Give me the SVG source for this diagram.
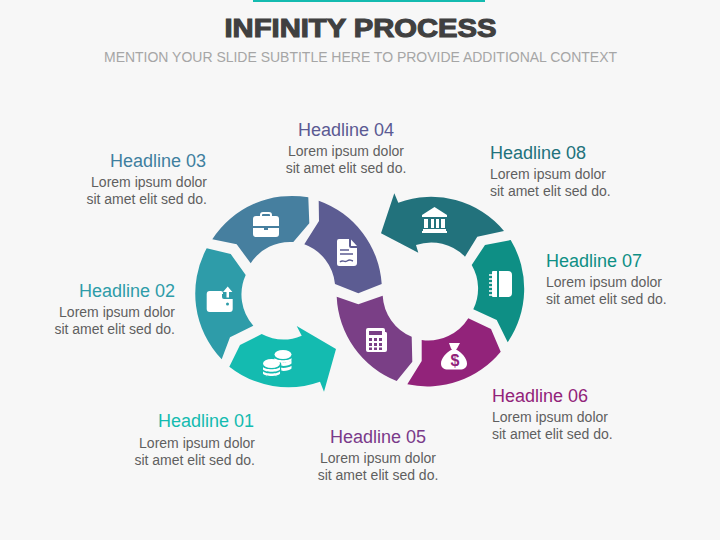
<svg xmlns="http://www.w3.org/2000/svg" width="720" height="540" viewBox="0 0 720 540">
<style>
text{font-family:"Liberation Sans",Arial,sans-serif}
.h{font-size:18px}
.b{font-size:14px;fill:#5f5f5f}
.e{text-anchor:end}.m{text-anchor:middle}
.i{fill:#fff}
.c{fill:none;stroke:#fff}
</style>
<rect width="720" height="540" fill="#f7f7f7"/>
<rect x="253" y="0" width="232" height="2" fill="#14bbb0"/>
<text x="360.500" y="37" class="m" font-size="26" font-weight="700" fill="#404040" stroke="#404040" stroke-width="1.100" textLength="272" lengthAdjust="spacingAndGlyphs">INFINITY PROCESS</text>
<text x="360.500" y="62" class="m" font-size="14" fill="#a6a6a6" textLength="513" lengthAdjust="spacingAndGlyphs">MENTION YOUR SLIDE SUBTITLE HERE TO PROVIDE ADDITIONAL CONTEXT</text>
<g id="connectors"></g>
<g id="node-01">
<path d="M229.300 366.700L240 345L261.700 334A47 47 0 0 0 301.700 335.700L296.700 326L336 349L324 391.700L320 381.700A95 95 0 0 1 229.300 366.700Z" fill="#14bbb0"/>
<g class="i">
<ellipse cx="283" cy="354.500" rx="8.500" ry="4.500"/>
<path d="M274.500 358c2 3 15 3 17 0v2.500c-2 3-15 3-17 0zM281 362.800c4 .4 8.500-.4 10.500-2v2.700c-1.500 1.800-6 2.700-10 2.300zM281 367.800c4 .4 8.500-.4 10.500-2v2.700c-1.500 1.800-6 2.700-10 2.300z"/>
<ellipse cx="271.500" cy="363.500" rx="8.500" ry="4.500"/>
<path d="M263 367c2 3 15 3 17 0v2.500c-2 3-15 3-17 0zM263 371.300c2 3 15 3 17 0v2.500c-2 3-15 3-17 0zM265 376c3 1.800 10 1.800 13 0c-2 1.800-11 1.800-13 0z"/>
</g>
<text x="254" y="427" class="h e" fill="#14bbb0">Headline 01</text>
<text x="255" y="448" class="b e">Lorem ipsum dolor</text><text x="255" y="465" class="b e">sit amet elit sed do.</text>
</g>
<g id="node-02">
<path d="M206.700 248.300L230.700 254L245.700 275A47 47 0 0 0 253.300 325.700L230 337.300L221.700 359.300A95 95 0 0 1 206.700 248.300Z" fill="#2e9ca9"/>
<path class="i" d="M210 291h11a2 2 0 0 1 2 2v1h-1v3a2 2 0 0 0 2 2h8.700v10a3 3 0 0 1-3 3h-20a3 3 0 0 1-3-3v-15a3 3 0 0 1 3-3z"/>
<path d="M226.500 290.500h2.500v7h-2.500zM223 292l4.700-5.500 4.700 5.500z" class="i"/>
<circle cx="227.500" cy="304" r="1.500" fill="#2e9ca9"/>
<text x="175" y="297" class="h e" fill="#2e9ca9">Headline 02</text>
<text x="175" y="317" class="b e">Lorem ipsum dolor</text><text x="175" y="334" class="b e">sit amet elit sed do.</text>
</g>
<g id="node-03">
<path d="M212.300 239.300A95 95 0 0 1 308.300 197.300L309.300 223.300L293.300 242A47 47 0 0 0 250.700 263.300L236.700 244.300Z" fill="#467f9f"/>
<path class="i" d="M253 219a3 3 0 0 1 3-3h4v-1a3 3 0 0 1 3-3h6a3 3 0 0 1 3 3v1h4a3 3 0 0 1 3 3v7h-26zM262 216h8v-1a1 1 0 0 0-1-1h-6a1 1 0 0 0-1 1zM253 228h11v2h4v-2h11v6a3 3 0 0 1-3 3h-20a3 3 0 0 1-3-3z"/>
<text x="206" y="167" class="h e" fill="#3f7f9f">Headline 03</text>
<text x="207" y="187" class="b e">Lorem ipsum dolor</text><text x="207" y="204" class="b e">sit amet elit sed do.</text>
</g>
<g id="node-04">
<path d="M318.700 200.700A95 95 0 0 1 381.700 284L358.300 293.300L335 284A47 47 0 0 0 304.300 244.300L319 221Z" fill="#5c5c92"/>
<path class="i" d="M339 239h10v7a2 2 0 0 0 2 2h6v15a3 3 0 0 1-3 3h-15a2 2 0 0 1-2-2v-23a2 2 0 0 1 2-2z"/>
<path d="M340 250h9M340 254h13M340 262c3-3 4 1 7-1s3-1 6 0" fill="none" stroke="#5c5c92" stroke-width="1.400"/>
<path d="M351 239.500l6 6.500h-6z" class="i"/>
<text x="346" y="136" class="h m" fill="#5b5a93">Headline 04</text>
<text x="346" y="156" class="b m">Lorem ipsum dolor</text><text x="346" y="173" class="b m">sit amet elit sed do.</text>
</g>
<g id="node-05">
<path d="M336.700 296.700L358.300 304.300L382.700 295.700A47 47 0 0 0 411.700 336.700L412.300 361.700L396.700 381A95 95 0 0 1 336.700 296.700Z" fill="#7a3f86"/>
<path class="i" d="M368 328h15a2 2 0 0 1 2 2v2h1a2 2 0 0 1 1 2v16a2 2 0 0 1-2 2h-17a2 2 0 0 1-2-2v-20a2 2 0 0 1 2-2z"/>
<path d="M369 331h13v4h-13zM369 338h3v3h-3zM374 338h3v3h-3zM379 338h3v3h-3zM369 343h3v3h-3zM374 343h3v3h-3zM379 343h3v3h-3zM369 347.500h3v2.500h-3zM374 347.500h3v2.500h-3zM379 347.500h3v2.500h-3z" fill="#7a3f86"/>
<text x="378" y="443" class="h m" fill="#7a3a8a">Headline 05</text>
<text x="378" y="463" class="b m">Lorem ipsum dolor</text><text x="378" y="480" class="b m">sit amet elit sed do.</text>
</g>
<g id="node-06">
<path d="M407.300 384.300L421.700 361L421.700 340A47 47 0 0 0 468.300 318.300L491 329L500.700 351.700A95 95 0 0 1 407.300 384.300Z" fill="#92237a"/>
<path class="i" d="M449 343h11l-3 5.500l-1 1c6 3 11 9 11 14 0 4-3 6-7 6h-12c-4 0-7-2-7-6 0-5 5-11 11-14l-1-1z"/>
<text x="455" y="366" class="m" font-size="16" font-weight="700" fill="#92237a">$</text>
<text x="492" y="402" class="h" fill="#92237a">Headline 06</text>
<text x="492" y="422" class="b">Lorem ipsum dolor</text><text x="492" y="439" class="b">sit amet elit sed do.</text>
</g>
<g id="node-07">
<path d="M510.700 240A95 95 0 0 1 507.700 342.300L496.700 320L473.300 309.300A47 47 0 0 0 471.700 265L485 245Z" fill="#0e8f85"/>
<path class="i" d="M499 271h9a4 4 0 0 1 4 4v18a4 4 0 0 1-4 4h-9zM497 271v26h-4a1 1 0 0 1-1-1v-24a1 1 0 0 1 1-1z"/>
<path d="M489 275h4M489 279h4M489 283h4M489 287h4M489 291h4M489 295h4" class="c" stroke-width="1.500"/>
<text x="546" y="267" class="h" fill="#0e8f85">Headline 07</text>
<text x="546" y="287" class="b">Lorem ipsum dolor</text><text x="546" y="304" class="b">sit amet elit sed do.</text>
</g>
<g id="node-08">
<path d="M504 231L477.300 236.700L465 256.700A47 47 0 0 0 416 245L418.300 252.700L381 233.300L394.300 193.300L398.300 202.700A95 95 0 0 1 504 231Z" fill="#22727c"/>
<path class="i" d="M434.500 207L447 215v2h-25v-2zM424 219h4v9h-4zM431 219h3v9h-3zM436 219h3v9h-3zM441 219h4v9h-4zM423 229h23v2h-23zM422 231h25v2h-25z"/>
<text x="490" y="159" class="h" fill="#22727c">Headline 08</text>
<text x="490" y="179" class="b">Lorem ipsum dolor</text><text x="490" y="196" class="b">sit amet elit sed do.</text>
</g>
</svg>
